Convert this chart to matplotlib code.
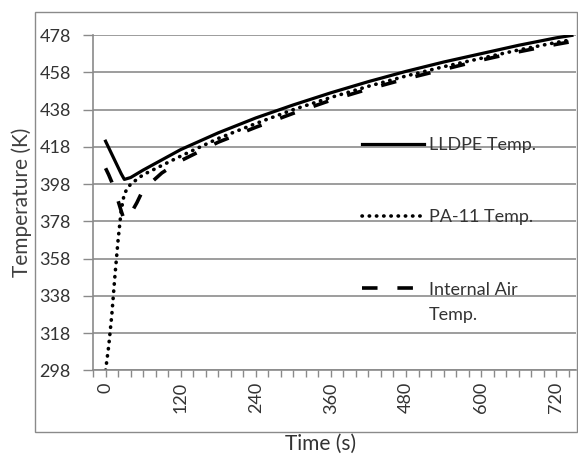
import matplotlib.pyplot as plt
from matplotlib.patches import Rectangle

plt.rcParams['font.family'] = ['Lato', 'DejaVu Sans']

# data
time_s = [0, 5, 10, 15, 20, 25, 30, 40, 50, 60, 90, 120, 180, 240, 300,
          360, 420, 480, 540, 600, 660, 720, 745]
lldpe = [421, 417.5, 414, 410.5, 407, 403.5, 400.5, 401.5, 403.5, 405.5, 411,
         416.5, 425.5, 433.5, 440.5, 447, 453, 458.5, 463.5, 468, 472.5, 476.5, 477.8]
pa11 = [298, 311, 328, 349, 368, 384, 393, 398, 400.5, 403, 408,
        413, 422.5, 430.5, 438, 444.5, 450.5, 456, 461, 465.5, 470, 474, 475.5]
air = [406.5, 403, 399, 394, 389, 383.5, 378.5, 382, 388, 395, 404,
       410.5, 420.5, 428.5, 436, 443, 449, 454.5, 459.5, 464.5, 469, 473, 474.5]

y_ticks = list(range(298, 479, 20))
x_ticks = list(range(0, 721, 120))

fig = plt.figure(figsize=(5.78, 4.55), dpi=100)
ax = fig.add_axes([0.161, 0.186, 0.836, 0.737])

# outer chart frame
fig.patches.append(Rectangle((0.0606, 0.0505), 0.938, 0.923, transform=fig.transFigure,
                             fill=False, edgecolor='#8a8a8a', linewidth=1.0))

ax.plot(time_s, lldpe, color='black', lw=2.3, solid_joinstyle='round', label='LLDPE Temp.')
ax.plot(time_s, pa11, color='black', lw=2.6, linestyle=(0, (0.1, 1.9)),
        dash_capstyle='round', label='PA-11 Temp.')
ax.plot(time_s, air, color='black', lw=2.6, linestyle=(0, (4.3, 5.5)),
        label='Internal Air')

ax.set_xlim(-20, 752)
ax.set_ylim(298, 478)
ax.set_yticks(y_ticks)
ax.set_xticks(x_ticks)
ax.set_xticks(range(-20, 752, 20), minor=True)
ax.tick_params(axis='x', labelrotation=90, labelsize=13, colors='#8a8a8a',
               labelcolor='#333333', length=5, width=1)
ax.tick_params(axis='x', which='minor', length=5, width=1, colors='#8a8a8a')
ax.tick_params(axis='y', labelsize=13, colors='#8a8a8a', labelcolor='#333333',
               length=7, width=1, pad=9)
ax.grid(axis='y', color='#8c8c8c', linewidth=1.2)
ax.set_axisbelow(True)
for side in ['top', 'right']:
    ax.spines[side].set_visible(False)
for side in ['left', 'bottom']:
    ax.spines[side].set_color('#8a8a8a')
    ax.spines[side].set_linewidth(1.2)

ax.set_ylabel('Temperature (K)', fontsize=15, color='#404040')
ax.yaxis.set_label_coords(-0.127, 0.5)
fig.text(0.555, 0.003, 'Time (s)', fontsize=15, color='#333333', ha='center', va='bottom')

leg = ax.legend(loc='upper left', bbox_to_anchor=(0.557, 0.696), frameon=False,
                fontsize=13, handlelength=3.4, handletextpad=0.3, labelspacing=3.12,
                borderpad=0, borderaxespad=0, labelcolor='#333333')
ax.annotate('Temp.', xy=(0, 0), xycoords=leg.get_texts()[2], xytext=(0, -7),
            textcoords='offset points', ha='left', va='top', fontsize=13,
            color='#333333', zorder=6)

fig.savefig('out.png', dpi=100)
